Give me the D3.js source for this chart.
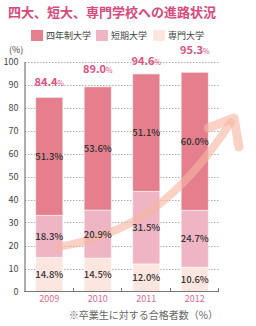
<!DOCTYPE html>
<html>
<head>
<meta charset="utf-8">
<script src="https://cdn.jsdelivr.net/npm/d3@7"></script>
<style>
  body { margin: 0; background: #fff; }
  svg text { font-family: "Noto Sans CJK JP", "Noto Sans", sans-serif; }
</style>
</head>
<body>
<div id="chart"></div>
<script>
// data
const years = ["2009", "2010", "2011", "2012"];
const univ = [51.3, 53.6, 51.1, 60.0];     // 四年制大学
const junior = [18.3, 20.9, 31.5, 24.7];   // 短期大学
const voc = [14.8, 14.5, 12.0, 10.6];      // 専門大学
const totals = [84.4, 89.0, 94.6, 95.3];
const legendNames = ["四年制大学", "短期大学", "専門大学"];
const yTicks = [0, 10, 20, 30, 40, 50, 60, 70, 80, 90, 100];

const colors = ["#e57f8d", "#efb5c4", "#fde6df"];
const W = 256, H = 326;

const svg = d3.select("#chart").append("svg")
    .attr("width", W)
    .attr("height", H);

// scales
const x = d3.scaleBand().domain(years).range([25, 219])
    .paddingInner(0.44).paddingOuter(0.22);
const y = d3.scaleLinear().domain([0, 100]).range([291.5, 61.5]);

// title
svg.append("text")
   .attr("x", 8).attr("y", 17)
   .attr("fill", "#d8497c")
   .attr("font-size", 13)
   .attr("font-weight", "bold")
   .text("四大、短大、専門学校への進路状況");

// legend
const lx = [31, 96, 153];
legendNames.forEach((n, i) => {
  svg.append("rect")
     .attr("x", lx[i]).attr("y", 30)
     .attr("width", 12).attr("height", 11)
     .attr("fill", colors[i]);
  svg.append("text")
     .attr("x", lx[i] + 15).attr("y", 38.5)
     .attr("font-size", 9).attr("fill", "#444")
     .text(n);
});

// (%) unit
svg.append("text")
   .attr("x", 9).attr("y", 53)
   .attr("font-size", 9).attr("fill", "#444")
   .text("(%)");

// dotted grid lines
svg.append("g").selectAll("line")
   .data(yTicks.filter(d => d > 0))
   .enter().append("line")
   .attr("x1", 25).attr("x2", 220)
   .attr("y1", d => Math.round(y(d)) + 0.5)
   .attr("y2", d => Math.round(y(d)) + 0.5)
   .attr("stroke", "#999")
   .attr("stroke-width", 0.8)
   .attr("stroke-dasharray", "1.5,1.5");

// stacked bars
const stack = years.map((yr, i) => {
  const vals = [voc[i], junior[i], univ[i]];
  let base = 0;
  return vals.map((v, k) => {
    const seg = {year: yr, v: v, y0: base, y1: base + v, c: colors[2 - k]};
    base += v;
    return seg;
  });
});

const bars = svg.append("g");
stack.forEach(segs => {
  bars.selectAll(null)
      .data(segs)
      .enter().append("rect")
      .attr("x", d => x(d.year))
      .attr("width", x.bandwidth())
      .attr("y", d => y(d.y1))
      .attr("height", d => y(d.y0) - y(d.y1))
      .attr("fill", d => d.c)
      .attr("stroke", "rgba(255,255,255,0.55)")
      .attr("stroke-width", 1);
});

// the big rising arrow (semi transparent, over the bars)
const arrow = svg.append("g")
    .attr("fill", "none")
    .attr("stroke", "#f6b6a2")
    .attr("stroke-opacity", 0.62)
    .attr("stroke-linecap", "round")
    .attr("stroke-linejoin", "round");
arrow.append("path")
     .attr("d", "M58,247 C130,235 180,200 231,122")
     .attr("stroke-width", 8);
arrow.append("path")
     .attr("d", "M208,128 L234,118 L239,147")
     .attr("stroke-width", 9);

// axes
const yAxis = svg.append("g")
    .attr("transform", "translate(24.5,0)")
    .call(d3.axisLeft(y).tickValues(yTicks).tickSize(0).tickPadding(6));
yAxis.select(".domain").attr("stroke", "#777").attr("stroke-width", 1.2);
yAxis.selectAll("text")
     .attr("font-family", "\"Noto Sans CJK JP\", sans-serif")
     .attr("font-size", 9).attr("fill", "#444");

const xAxis = svg.append("g")
    .attr("transform", "translate(0,291.5)")
    .call(d3.axisBottom(x).tickSize(0).tickPadding(4));
xAxis.select(".domain").remove();
xAxis.selectAll("text")
     .attr("font-family", "\"Noto Sans CJK JP\", sans-serif")
     .attr("font-size", 9).attr("fill", "#e0698d");
svg.append("line")
   .attr("x1", 24).attr("x2", 219)
   .attr("y1", 291.5).attr("y2", 291.5)
   .attr("stroke", "#777").attr("stroke-width", 1.2);
const gap = x.step() * x.paddingInner();
svg.append("g").selectAll("line")
   .data(years)
   .enter().append("line")
   .attr("x1", d => Math.round(x(d) + x.bandwidth() + gap / 2) - 0.5)
   .attr("x2", d => Math.round(x(d) + x.bandwidth() + gap / 2) - 0.5)
   .attr("y1", 288).attr("y2", 291.5)
   .attr("stroke", "#777").attr("stroke-width", 1);

// segment labels
const segLabels = svg.append("g");
stack.forEach(segs => {
  segLabels.selectAll(null)
      .data(segs)
      .enter().append("text")
      .attr("x", d => x(d.year) + x.bandwidth() / 2)
      .attr("y", d => (y(d.y0) + y(d.y1)) / 2 + 3.5)
      .attr("text-anchor", "middle")
      .attr("font-size", 9.5)
      .attr("font-weight", 500)
      .attr("fill", "#333")
      .text(d => d.v.toFixed(1) + "%");
});

// total labels above the bars
const labelGap = [11, 14, 9, 18];
years.forEach((yr, i) => {
  const t = svg.append("text")
     .attr("x", x(yr) + x.bandwidth() / 2)
     .attr("y", y(totals[i]) - labelGap[i])
     .attr("text-anchor", "middle")
     .attr("fill", "#e0507f")
     .attr("font-weight", "bold");
  t.append("tspan").attr("font-size", 11).text(totals[i].toFixed(1));
  t.append("tspan").attr("font-size", 7).attr("font-weight", "normal").text("%");
});

// footnote
svg.append("text")
   .attr("x", 218).attr("y", 319)
   .attr("text-anchor", "end")
   .attr("font-size", 10).attr("fill", "#666")
   .text("※卒業生に対する合格者数（%）");
</script>
</body>
</html>
